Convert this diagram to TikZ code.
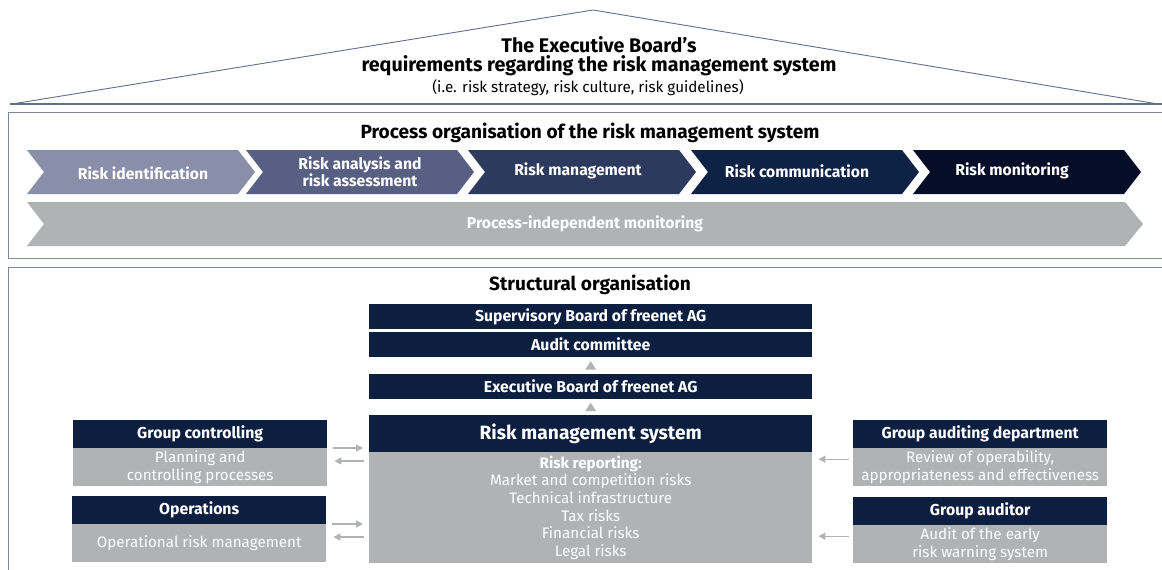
\documentclass[tikz,border=0pt]{standalone}
\usepackage{fontspec}
\setmainfont{Fira Sans}
\usetikzlibrary{arrows.meta,calc}
\definecolor{navy}{HTML}{0C1F41}
\definecolor{lgray}{HTML}{B1B2B4}
\definecolor{framec}{HTML}{7C889B}
\definecolor{roofc}{HTML}{5F6E8A}
\definecolor{chA}{HTML}{898EA9}
\definecolor{chB}{HTML}{575F82}
\definecolor{chC}{HTML}{2E395E}
\definecolor{chD}{HTML}{0E2246}
\definecolor{chE}{HTML}{060E27}
\tikzset{
  hdr/.style={fill=navy, text=white, font=\bfseries\fontsize{15.8}{17}\selectfont, inner sep=0pt, anchor=north west, align=center},
  body/.style={fill=lgray, text=white, font=\fontsize{15.2}{17.6}\selectfont, inner sep=0pt, anchor=north west, align=center},
  chevtext/.style={text=white, font=\bfseries\fontsize{15.7}{17.5}\selectfont, align=center, inner sep=0pt},
  frameline/.style={draw=framec, line width=1pt},
  sarrow/.style={draw=lgray, line width=1.4pt, -{Triangle[length=7pt,width=7pt]}},
  title/.style={font=\bfseries\fontsize{19.1}{21}\selectfont, inner sep=0pt},
}
\begin{document}
\begin{tikzpicture}[x=1pt,y=-1pt]
\useasboundingbox (0,0) rectangle (1162,570);
% roof
\draw[draw=roofc, line width=0.9pt] (12,104) -- (593,10) -- (1158,104);
\draw[draw=roofc, line width=1.4pt] (10,104) -- (1162,104);
\node[inner sep=0pt, font=\bfseries\fontsize{19.7}{21}\selectfont] (r1) at (599,45) {The Executive Board’s};
\node[inner sep=0pt, font=\bfseries\fontsize{19.7}{21}\selectfont] (r2) at (599,66) {requirements regarding the risk management system};
\node[inner sep=0pt, font=\fontsize{15.2}{16}\selectfont] (r3) at (588,88) {(i.e. risk strategy, risk culture, risk guidelines)};
% process frame
\draw[frameline] (1162,112) -- (8,112) -- (8,258) -- (1162,258);
\node[title] (ptitle) at (590,133) {Process organisation of the risk management system};
% chevrons
\foreach \L/\c in {27/chA,246/chB,468/chC,691/chD,913/chE}{
  \fill[\c] (\L,150) -- (\L+211,150) -- (\L+228,172) -- (\L+211,194) -- (\L,194) -- (\L+17,172) -- cycle;
}
\node[chevtext] (c1) at (143,173) {Risk identification};
\node[chevtext] (c2) at (360,172) {Risk analysis and\\risk assessment};
\node[chevtext] (c3) at (578,171) {Risk management};
\node[chevtext] (c4) at (797,171) {Risk communication};
\node[chevtext] (c5) at (1012,171) {Risk monitoring};
\fill[lgray] (27,202) -- (1125,202) -- (1143,224) -- (1125,246) -- (27,246) -- (44,224) -- cycle;
\node[chevtext] (pim) at (585,224) {Process-independent monitoring};
% structural frame
\draw[frameline] (1162,267) -- (8,267) -- (8,570);
\node[title] (stitle) at (590,285) {Structural organisation};
% central column
\node[hdr, minimum width=443, minimum height=25] (sup) at (369,304) {Supervisory Board of freenet AG};
\node[hdr, minimum width=443, minimum height=25] (audit) at (369,332) {Audit committee};
\node[hdr, minimum width=443, minimum height=25] (exec) at (369,374) {Executive Board of freenet AG};
\node[hdr, minimum width=443, minimum height=37, font=\bfseries\fontsize{19.2}{22}\selectfont] (rmsh) at (369,415) {Risk management system};
\node[body, minimum width=443, minimum height=111] (rmsb) at (369,452) {\textbf{Risk reporting:}\\Market and competition risks\\Technical infrastructure\\Tax risks\\Financial risks\\Legal risks};
% up triangles
\path (audit.south) -- (exec.north) coordinate[midway] (m1);
\path (exec.south) -- (rmsh.north) coordinate[midway] (m2);
\fill[lgray] ($(m1)+(-5.5,4)$) -- ($(m1)+(0,-4.5)$) -- ($(m1)+(5.5,4)$) -- cycle;
\fill[lgray] ($(m2)+(-5.5,4)$) -- ($(m2)+(0,-4.5)$) -- ($(m2)+(5.5,4)$) -- cycle;
% left boxes
\node[hdr, minimum width=254, minimum height=28] (gch) at (73,420) {Group controlling};
\node[body, minimum width=254, minimum height=38] (gcb) at (73,448) {Planning and\\controlling processes};
\node[hdr, minimum width=254, minimum height=28] (oph) at (72,496) {Operations};
\node[body, minimum width=254, minimum height=38] (opb) at (72,524) {Operational risk management};
% right boxes
\node[hdr, minimum width=254, minimum height=28] (gah) at (853,420) {Group auditing department};
\node[body, minimum width=254, minimum height=38] (gab) at (853,448) {Review of operability,\\appropriateness and effectiveness};
\node[hdr, minimum width=254, minimum height=28] (auh) at (853,497) {Group auditor};
\node[body, minimum width=254, minimum height=38] (aub) at (853,525) {Audit of the early\\risk warning system};
% side arrows
\draw[sarrow] ($(gcb.north east)+(6,0)$) -- ($(rmsb.west |- gcb.north east)+(-6,0)$);
\draw[sarrow] ($(rmsb.west |- gcb.north east)+(-5,13)$) -- ($(gcb.north east)+(7,13)$);
\draw[sarrow] ($(opb.north east)+(6,0)$) -- ($(rmsb.west |- opb.north east)+(-6,0)$);
\draw[sarrow] ($(rmsb.west |- opb.north east)+(-5,13)$) -- ($(opb.north east)+(7,13)$);
\draw[sarrow] ($(gab.west)+(-4,-8)$) -- ($(rmsb.east |- gab.west)+(6,-8)$);
\draw[sarrow] ($(aub.west)+(-4,-8)$) -- ($(rmsb.east |- aub.west)+(6,-8)$);
\end{tikzpicture}
\end{document}
